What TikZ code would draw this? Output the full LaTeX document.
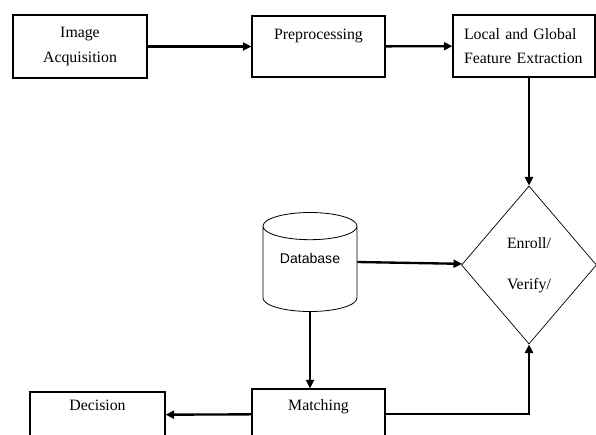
\documentclass[tikz,border=0pt]{standalone}
\usepackage{fontspec}
\setmainfont{Liberation Serif}
\setsansfont{Liberation Sans}
\usetikzlibrary{arrows.meta, positioning, shapes.geometric}

\begin{document}
\begin{tikzpicture}[x=0.03cm, y=-0.03cm,
  >={Triangle[length=2.6mm, width=2.4mm]},
  every node/.style={font=\fontsize{13.5}{21}\selectfont},
  blk/.style={draw, line width=0.9pt, align=center},
  dec/.style={diamond, draw, line width=0.6pt, align=center},
  store/.style={cylinder, shape border rotate=90, aspect=0.4, draw, line width=0.7pt,
                font=\sffamily\fontsize{12}{14}\selectfont},
  flow/.style={->, line width=2pt}
]
\useasboundingbox (0,0) rectangle (596,434);
\clip (0,0) rectangle (596,434);
\node[blk, minimum width=4.02cm, minimum height=1.89cm] (acq) at (80,46.5) {Image\\Acquisition};
\node[blk, minimum width=3.99cm, minimum height=1.83cm] (pre) at (318.5,46.5) {Preprocessing\\\mbox{}};
\node[blk, minimum width=4.26cm, minimum height=1.86cm, inner xsep=9pt, text width=3.6cm, align=left]
  (feat) at (524,46) {Local and Global\\Feature Extraction};
\node[dec, minimum width=4.05cm, minimum height=4.74cm] (dia) at (529,265) {Enroll/\\[14pt]Verify/};
\node[store, minimum width=2.82cm, minimum height=2.97cm, anchor=shape center] (db) at (310,262)
  {\raisebox{7pt}[0pt][0pt]{Database}};
\node[blk, minimum width=3.99cm, minimum height=1.5cm] (match) at (318.5,414) {Matching\\[-5pt]\mbox{}};
\node[blk, minimum width=4.05cm, minimum height=1.38cm] (decis) at (97.5,415) {Decision\\[-5pt]\mbox{}};
% flow of the pipeline
\draw[flow] (db.shape center -| db.east) -- (dia);
\draw[flow] (acq) -- (pre);
\draw[flow] (pre) -- (feat);
\draw[flow] (dia.north |- feat.south) -- (dia.north);
\draw[flow] (db.south) -- (db.south |- match.north);
\draw[flow] (match.east) -| (dia.south);
\draw[flow] (match) -- (decis);
\end{tikzpicture}
\end{document}
